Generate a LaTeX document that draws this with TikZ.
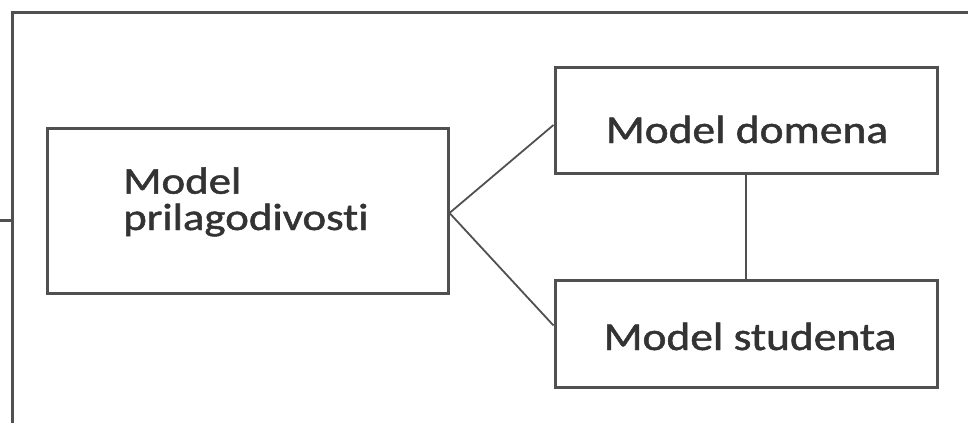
\documentclass[tikz,border=0pt]{standalone}
\usepackage{fontspec}
\setmainfont{Carlito}
\newfontfamily\lblfont{Carlito}[FakeBold=1.2, Ligatures=NoCommon]
\definecolor{linegray}{HTML}{505050}
\definecolor{textgray}{HTML}{333333}
\tikzset{
  frameline/.style={draw=linegray, line width=3pt},
  modelbox/.style={draw=linegray, line width=3pt, rectangle, inner sep=0pt},
  conn/.style={draw=linegray, line width=1.8pt},
  lbl/.style={text=textgray, inner sep=0pt, font=\lblfont\fontsize{39.5}{35}\selectfont},
  lbll/.style={text=textgray, inner sep=0pt, font=\lblfont\fontsize{38}{33}\selectfont}
}
\begin{document}
\begin{tikzpicture}[x=1pt,y=-1pt]
\useasboundingbox (0,0) rectangle (968,423);
% outer frame
\coordinate (ftl) at (12,12);
\coordinate (ftr) at (968,12);
\coordinate (fbl) at (12,423);
\coordinate (ftick) at (0,220);
\coordinate (ftickend) at (12,220);
\draw[frameline] (ftr) -- (ftl) -- (fbl);
\draw[frameline] (ftick) -- (ftickend);
% boxes
\node[modelbox, minimum width=401pt, minimum height=165pt] (prl) at (247.5,211) {};
\node[modelbox, minimum width=382pt, minimum height=106pt] (dom) at (746,120) {};
\node[modelbox, minimum width=382pt, minimum height=107pt] (stu) at (746,333.5) {};
% labels
\node[lbll, anchor=base west] (prltxt) at (123,230) {\scalebox{1.18}[1]{\begin{tabular}[b]{@{}l@{}}Model\\prilagodivosti\end{tabular}}};
\node[lbl, anchor=base] (domtxt) at (747,143) {\scalebox{1.15}[1]{Model domena}};
\node[lbl, anchor=base] (stutxt) at (750,350) {\scalebox{1.15}[1]{Model studenta}};
% connectors
\draw[conn] ([yshift=-2pt]prl.east) -- ([yshift=-5pt]dom.west);
\draw[conn] ([yshift=-2pt]prl.east) -- ([yshift=8pt]stu.west);
\draw[conn] (dom.south) -- (stu.north);
\end{tikzpicture}
\end{document}
